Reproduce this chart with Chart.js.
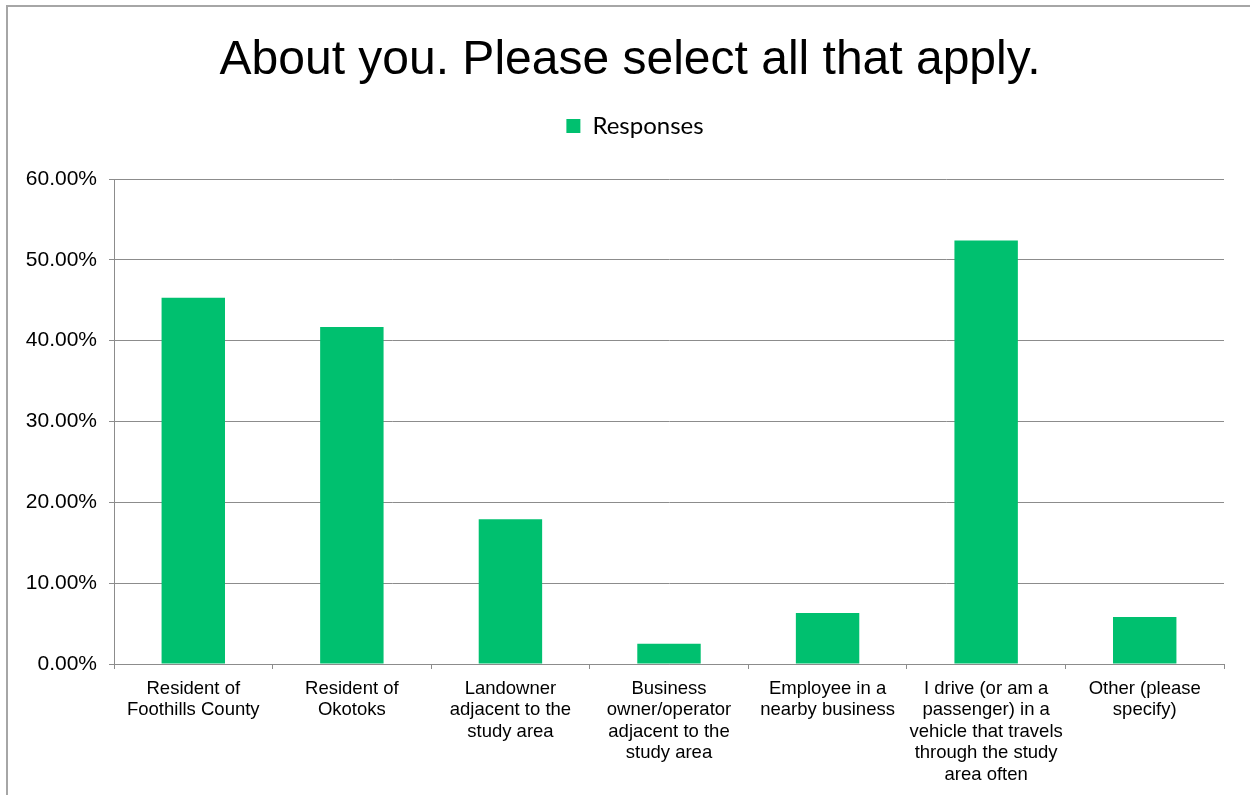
<!DOCTYPE html>
<html>
<head>
<meta charset="utf-8">
<script src="https://cdn.jsdelivr.net/npm/chart.js@4.4.0/dist/chart.umd.min.js"></script>
<style>
  html, body { margin: 0; padding: 0; background: #fff; overflow: hidden; }
  #frame {
    position: absolute; left: 6px; top: 5px;
    width: 1400px; height: 1000px;
    border: 2px solid #a6a6a6;
  }
  #chart { position: absolute; left: 0; top: 0; }
</style>
</head>
<body>
<div id="frame"></div>
<canvas id="chart" width="1250" height="795"></canvas>
<script>
// Survey answers, share of respondents (%)
const categories = [
    ['Resident of', 'Foothills County'],
    ['Resident of', 'Okotoks'],
    ['Landowner', 'adjacent to the', 'study area'],
    ['Business', 'owner/operator', 'adjacent to the', 'study area'],
    ['Employee in a', 'nearby business'],
    ['I drive (or am a', 'passenger) in a', 'vehicle that travels', 'through the study', 'area often'],
    ['Other (please', 'specify)']
];
const responses = [45.3, 41.7, 17.9, 2.5, 6.3, 52.4, 5.8];
const yTicks = [0, 10, 20, 30, 40, 50, 60];

const GREEN = '#00c06f';
const AXIS = '#8c8c8c';

// Layout tweaks Chart.js has no option for:
//  - y tick labels sit partly in the left layout padding, so don't clip them
//  - leave a gap between the legend and the plot area
const layoutTweaks = {
    id: 'layoutTweaks',
    afterLayout(chart) {
        chart.scales.y.left = 0;
        const title = chart.titleBlock;
        const legend = chart.legend;
        if (title) {
            title.top -= 29;
            title.bottom -= 29;
        }
        if (legend) {
            legend.top -= 31;
            legend.bottom -= 31;
            legend.left += 5;
            legend.right += 5;
        }
    }
};

const ctx = document.getElementById('chart').getContext('2d');
new Chart(ctx, {
    type: 'bar',
    data: {
        labels: categories,
        datasets: [{
            label: 'Responses',
            data: responses,
            backgroundColor: GREEN,
            borderWidth: 0,
            barPercentage: 0.4,
            categoryPercentage: 1.0
        }]
    },
    plugins: [layoutTweaks],
    options: {
        responsive: false,
        animation: false,
        layout: {
            padding: { left: 36, right: 26, top: 0, bottom: 0 }
        },
        plugins: {
            title: {
                display: true,
                text: 'About you. Please select all that apply.',
                color: '#000',
                font: { family: 'Liberation Sans', size: 48, weight: 'normal', lineHeight: 1.2 },
                padding: { top: 30, bottom: 16 }
            },
            legend: {
                display: true,
                position: 'top',
                labels: {
                    color: '#000',
                    boxWidth: 14,
                    boxHeight: 14,
                    padding: 10,
                    font: { family: 'Lato', size: 24 }
                }
            },
            tooltip: { enabled: false }
        },
        scales: {
            x: {
                grid: {
                    display: true,
                    offset: true,
                    drawOnChartArea: false,
                    drawTicks: true,
                    tickLength: 5,
                    color: AXIS
                },
                border: { display: true, color: AXIS, width: 1 },
                ticks: {
                    color: '#000',
                    maxRotation: 0,
                    autoSkip: false,
                    padding: 9,
                    font: { family: 'Liberation Sans', size: 18.5, lineHeight: 1.16 }
                },
                afterFit: function(scale) { scale.height = 131; }
            },
            y: {
                min: 0,
                max: 60,
                afterBuildTicks: function(scale) {
                    scale.ticks = yTicks.map(v => ({ value: v }));
                },
                grid: {
                    color: AXIS,
                    drawTicks: true,
                    tickLength: 5
                },
                border: { display: true, color: AXIS, width: 1 },
                ticks: {
                    color: '#000',
                    padding: 12,
                    font: { family: 'Liberation Sans', size: 21 },
                    callback: function(value) { return value.toFixed(2) + '%'; }
                },
                afterFit: function(scale) {
                    scale.width = 78;
                    scale.paddingTop = 179; // plot area starts at y=179
                }
            }
        }
    }
});
</script>
</body>
</html>
